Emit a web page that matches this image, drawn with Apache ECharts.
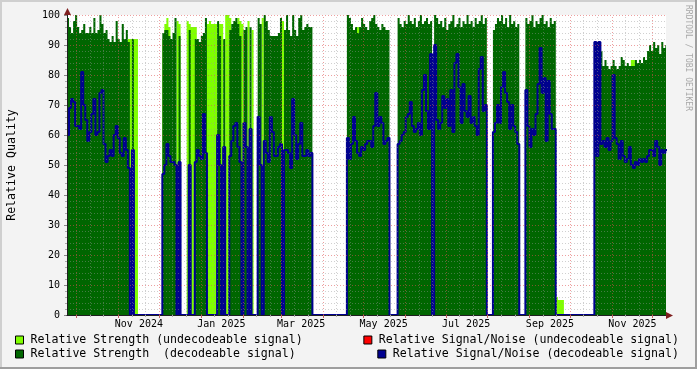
<!DOCTYPE html>
<html><head><meta charset="utf-8">
<script src="https://cdn.jsdelivr.net/npm/echarts@6/dist/echarts.min.js"></script>
<style>html,body{margin:0;padding:0;background:#f3f3f3;}#c{width:697px;height:369px;}</style>
</head><body><div id="c"></div>
<script>
// ---- time base (RRD rows, 1.5 day step) ----
const START = Date.UTC(2024, 8, 23, 20);
const DAY = 86400000;
const STEP_DAYS = 1.5;
const END = START + 443 * DAY;

// x tick labels (placed mid-month like rrdtool)
const tickLabels = ['Nov 2024', 'Jan 2025', 'Mar 2025', 'May 2025', 'Jul 2025', 'Sep 2025', 'Nov 2025'];

const seriesNames = [
  'Relative Strength (undecodeable signal)',
  'Relative Signal/Noise (undecodeable signal)',
  'Relative Strength  (decodeable signal)',
  'Relative Signal/Noise (decodeable signal)'
];

// Relative Strength (undecodeable signal)
const strengthUndecodeable = [
  0,0,0,0,0,0,0,0,0,0, 0,0,0,0,0,0,0,0,0,0, 0,0,0,0,0,0,0,0,0,0,
  92,92,92,92,92,
  0,0,0,0,0,0,0,0,0,0, 0,0,
  92,97,99,96,0,0,0,98,97,0, 0,0,98,97,96,96,96,0,0,0, 0,0,97,98,97,97,97,0,97,97,
  0,100,100,99,0,0,0,99,98,97, 0,0,98,0,95,0,0,0,0,99, 0,0,0,0,0,0,0,0,0,98,
  0,0,0,0,0,0,0,0,0,0, 0,0,0,0,
  0,0,0,0,0,0,0,0,0,0, 0,0,0,0,0,0,0,
  0,0,0,0,0,96,0,0,0,0, 0,0,0,0,0,0,0,0,0,0, 0,
  0,0,0,0,
  0,0,0,0,0,0,0,0,0,0, 0,0,0,0,0,0,0,0,0,0, 0,0,0,0,0,0,0,0,0,0, 0,0,0,0,0,0,0,0,0,0, 0,0,0,0,
  0,0,0,
  0,0,0,0,0,0,0,0,0,0, 0,0,0,
  0,0,0,
  0,0,0,0,0,0,0,0,0,0, 0,0,0,0,0,
  6,5,5,5,
  0,0,0,0,0,0,0,0,0,0, 0,0,0,0,0,
  0,0,0,0,0,0,0,0,0,0, 0,0,0,0,0,0,0,0,85,85, 0,0,0,0,0,0,0,0,0,0, 0,0,0,0,0,0
];

// Relative Strength (decodeable signal)
const strengthDecodeable = [
  99,96,94,98,100,96,94,95,97,94, 94,96,94,99,94,95,100,97,94,95, 92,91,93,91,98,92,91,97,92,95,
  91,0,92,0,0,
  0,0,0,0,0,0,0,0,0,0, 0,0,
  94,95,95,93,92,94,99,0,93,0, 0,0,0,95,0,0,92,92,91,93, 94,99,0,0,0,0,0,98,93,0,
  92,0,0,95,97,98,99,97,93,0, 95,96,0,96,0,0,0,99,97,0, 100,98,95,93,93,93,93,94,99,0,
  95,100,95,93,100,95,93,99,100,95, 96,97,96,96,
  0,0,0,0,0,0,0,0,0,0, 0,0,0,0,0,0,0,
  100,99,97,95,96,94,96,99,97,96, 95,98,99,100,97,96,95,97,96,95, 95,
  0,0,0,0,
  99,97,96,98,97,100,98,97,99,96, 98,100,97,98,99,97,98,0,100,99, 97,98,96,99,95,97,98,100,96,97,
  99,96,98,97,100,97,98,96,99,97, 98,100,97,99,
  0,0,0,
  95,97,99,98,100,97,99,96,100,97, 98,96,97,
  0,0,0,
  99,97,98,100,96,98,97,99,100,97, 98,96,99,97,98,
  0,0,0,0,
  0,0,0,0,0,0,0,0,0,0, 0,0,0,0,0,
  91,91,91,88,83,85,83,82,83,85, 83,82,83,86,85,83,84,83,83,83, 85,84,85,84,86,85,88,90,88,91, 89,90,87,91,89,90
];

// Relative Signal/Noise (decodeable signal)
const snrDecodeable = [
  60,69,72,71,63,63,62,81,70,65, 58,61,67,72,60,61,74,75,57,51, 53,55,53,60,63,59,54,53,59,55,
  49,0,55,0,0,
  0,0,0,0,0,0,0,0,0,0, 0,0,
  47,50,57,53,51,51,50,0,51,0, 0,0,0,50,0,0,51,55,53,52, 67,54,0,0,0,0,0,60,50,0,
  56,0,0,53,58,63,64,56,51,0, 64,56,0,62,0,0,0,66,50,0, 58,54,51,66,61,53,53,56,57,0,
  55,55,54,49,72,60,52,57,64,53, 53,55,53,54,
  0,0,0,0,0,0,0,0,0,0, 0,0,0,0,0,0,0,
  59,52,57,66,58,54,53,56,55,57, 58,58,56,63,74,63,66,64,57,58, 59,
  0,0,0,0,
  57,58,60,61,66,67,71,63,61,62, 64,60,75,80,68,62,87,0,90,65, 62,64,73,69,72,63,75,61,84,87,
  76,64,77,68,66,73,64,66,63,60, 82,86,68,70,
  0,0,0,
  61,64,70,64,76,81,74,71,62,70, 63,61,57,
  0,0,0,
  75,63,56,62,60,67,77,89,74,79, 58,78,67,62,62,
  0,0,0,0,
  0,0,0,0,0,0,0,0,0,0, 0,0,0,0,0,
  91,53,91,57,58,56,59,55,58,80, 59,57,52,58,53,51,52,56,50,49, 51,50,52,51,52,51,53,55,55,53, 58,56,50,55,54,55
];

// Relative Signal/Noise (undecodeable signal): no values drawn
const snrUndecodeable = [];

// ---------------------------------------------------------------
const FONT = "'DejaVu Sans Mono', monospace";
const MON = ['Jan','Feb','Mar','Apr','May','Jun','Jul','Aug','Sep','Oct','Nov','Dec'];

function toPairs(arr) {
  const d = arr.map((v, i) => [START + i * STEP_DAYS * DAY, v]);
  if (arr.length) d.push([START + arr.length * STEP_DAYS * DAY, arr[arr.length - 1]]);
  return d;
}
const labelTimes = tickLabels.map(s => {
  const [m, y] = s.split(' ');
  return Date.UTC(+y, MON.indexOf(m), 16);
});
const monthStarts = [], minorTimes = [];
for (let y = 2024; y <= 2025; y++) for (let m = 0; m < 12; m++) {
  const t = Date.UTC(y, m, 1);
  if (t > START && t < END) monthStarts.push(t);
  [11, 21].forEach(dd => { const u = Date.UTC(y, m, dd); if (u > START && u < END) minorTimes.push(u); });
}

const chart = echarts.init(document.getElementById('c'), null, {renderer: 'canvas'});
const MGRID = 'rgba(222,80,80,0.55)';
const GRID = 'rgba(150,150,150,0.45)';

function legendFor(name, pos) {
  return Object.assign({
    data: [name], orient: 'horizontal', padding: 0, itemWidth: 8, itemHeight: 8, icon: 'rect',
    selectedMode: false,
    itemStyle: {borderColor: '#000', borderWidth: 1},
    textStyle: {fontFamily: FONT, fontSize: 11.6, color: '#000', padding: [0, 0, 0, 2]}
  }, pos);
}

const gridLines = minorTimes.map(t => ({xAxis: t, lineStyle: {color: GRID, type: [1, 2], width: 1}}))
  .concat(monthStarts.map(t => ({xAxis: t, lineStyle: {color: MGRID, type: [1, 2], width: 1}})));

chart.setOption({
  animation: false,
  backgroundColor: '#f3f3f3',
  grid: {left: 67, right: 31, top: 15, bottom: 54, show: true, backgroundColor: '#ffffff', borderWidth: 0},
  xAxis: [{
    type: 'value', min: START, max: END, position: 'bottom', z: 6,
    axisLine: {show: true, lineStyle: {color: '#1f1f1f', width: 1}},
    axisTick: {show: true, customValues: monthStarts, length: 3, lineStyle: {color: '#c06060'}},
    axisLabel: {
      customValues: labelTimes,
      formatter: v => { const k = labelTimes.indexOf(v); return k >= 0 ? tickLabels[k] : ''; },
      fontFamily: FONT, fontSize: 10, color: '#000', margin: 4
    },
    splitLine: {show: false}
  }, {
    type: 'value', min: START, max: END, position: 'bottom', z: 6,
    axisLine: {show: false}, axisLabel: {show: false},
    axisTick: {show: true, customValues: minorTimes, length: 2, lineStyle: {color: '#aaaaaa'}},
    splitLine: {show: false}
  }],
  yAxis: {
    type: 'value', min: 0, max: 100, interval: 10, z: 4,
    axisLine: {show: true, lineStyle: {color: '#1f1f1f'}},
    axisTick: {show: true, length: 3, lineStyle: {color: '#888'}},
    minorTick: {show: true, splitNumber: 5, length: 2, lineStyle: {color: '#aaa'}},
    axisLabel: {fontFamily: FONT, fontSize: 10, color: '#000', margin: 7},
    splitLine: {show: true, lineStyle: {color: MGRID, type: [1, 2], width: 1}},
    minorSplitLine: {show: true, lineStyle: {color: GRID, type: [1, 2], width: 1}}
  },
  legend: [
    legendFor(seriesNames[0], {left: 15, top: 334}),
    legendFor(seriesNames[1], {right: 18, top: 334}),
    legendFor(seriesNames[2], {left: 15, top: 348}),
    legendFor(seriesNames[3], {right: 18, top: 348})
  ],
  series: [
    {name: seriesNames[0], type: 'line', step: 'end', data: toPairs(strengthUndecodeable), symbol: 'none',
     color: '#80ff00', lineStyle: {width: 0}, areaStyle: {color: '#80ff00', opacity: 1}},
    {name: seriesNames[2], type: 'line', step: 'end', data: toPairs(strengthDecodeable), symbol: 'none',
     color: '#006600', lineStyle: {width: 0}, areaStyle: {color: '#006600', opacity: 1}},
    {name: seriesNames[1], type: 'line', step: 'end', data: toPairs(snrUndecodeable), symbol: 'none',
     color: '#ff0000', lineStyle: {width: 1, color: '#ff0000'}},
    {name: seriesNames[3], type: 'line', step: 'end', data: toPairs(snrDecodeable), symbol: 'none',
     color: '#000090', lineStyle: {width: 2, color: '#000090'},
     markLine: {silent: true, symbol: 'none', z: 5, label: {show: false}, emphasis: {disabled: true},
                animation: false, data: gridLines}}
  ],
  graphic: [
    {type: 'rect', shape: {x: 0, y: 0, width: 697, height: 2}, style: {fill: '#cfcfcf'}, z: 100},
    {type: 'rect', shape: {x: 0, y: 0, width: 2, height: 369}, style: {fill: '#cfcfcf'}, z: 100},
    {type: 'rect', shape: {x: 0, y: 367, width: 697, height: 2}, style: {fill: '#9e9e9e'}, z: 100},
    {type: 'rect', shape: {x: 695, y: 0, width: 2, height: 369}, style: {fill: '#9e9e9e'}, z: 100},
    {type: 'polygon', shape: {points: [[666, 312], [673, 315.5], [666, 319]]}, style: {fill: '#7f1f1f'}, z: 100},
    {type: 'polygon', shape: {points: [[64, 15], [67.5, 8], [71, 15]]}, style: {fill: '#7f1f1f'}, z: 100},
    {type: 'text', x: 12, y: 165, rotation: Math.PI / 2,
     style: {text: 'Relative Quality', font: "11.6px 'DejaVu Sans Mono'", fill: '#000', textAlign: 'center', textVerticalAlign: 'middle'}, z: 100},
    {type: 'text', x: 688, y: 5, rotation: -Math.PI / 2,
     style: {text: 'RRDTOOL / TOBI OETIKER', font: "8px 'DejaVu Sans Mono'", fill: '#a8a8a8', textAlign: 'left', textVerticalAlign: 'middle'}, z: 100}
  ]
});
</script>
</body></html>
